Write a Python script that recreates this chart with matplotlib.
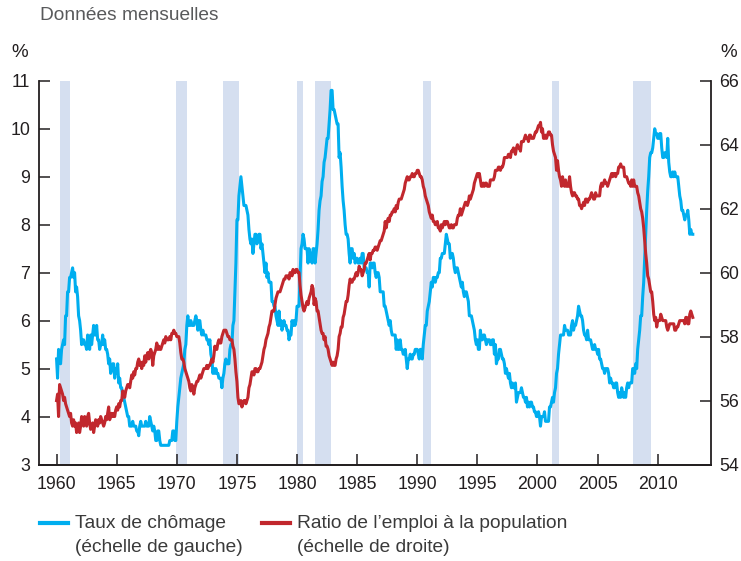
import numpy as np
import matplotlib
matplotlib.use("Agg")
import matplotlib.pyplot as plt
from matplotlib.lines import Line2D

plt.rcParams['font.family'] = ['Liberation Sans', 'DejaVu Sans']

start_year = 1960

# taux de chomage, mensuel, 1960-2012 (une ligne par annee)
chomage = [
    5.2, 4.8, 5.4, 5.2, 5.1, 5.4, 5.5, 5.6, 5.5, 6.1, 6.1, 6.6,
    6.6, 6.9, 6.9, 7.0, 7.1, 6.9, 7.0, 6.6, 6.7, 6.5, 6.1, 6.0,
    5.8, 5.5, 5.6, 5.6, 5.5, 5.5, 5.4, 5.7, 5.6, 5.4, 5.7, 5.5,
    5.7, 5.9, 5.7, 5.7, 5.9, 5.6, 5.6, 5.4, 5.5, 5.5, 5.7, 5.5,
    5.6, 5.4, 5.4, 5.3, 5.1, 5.2, 4.9, 5.0, 5.1, 5.1, 4.8, 5.0,
    4.9, 5.1, 4.7, 4.8, 4.6, 4.6, 4.4, 4.4, 4.3, 4.2, 4.1, 4.0,
    4.0, 3.8, 3.8, 3.8, 3.9, 3.8, 3.8, 3.8, 3.7, 3.7, 3.6, 3.8,
    3.9, 3.8, 3.8, 3.8, 3.8, 3.9, 3.8, 3.8, 3.8, 4.0, 3.9, 3.8,
    3.7, 3.8, 3.7, 3.5, 3.5, 3.7, 3.7, 3.5, 3.4, 3.4, 3.4, 3.4,
    3.4, 3.4, 3.4, 3.4, 3.4, 3.5, 3.5, 3.5, 3.7, 3.7, 3.5, 3.5,
    3.9, 4.2, 4.4, 4.6, 4.8, 4.9, 5.0, 5.1, 5.4, 5.5, 5.9, 6.1,
    5.9, 5.9, 6.0, 5.9, 5.9, 5.9, 6.0, 6.1, 6.0, 5.8, 6.0, 6.0,
    5.8, 5.7, 5.8, 5.7, 5.7, 5.7, 5.6, 5.6, 5.5, 5.6, 5.3, 5.2,
    4.9, 5.0, 4.9, 5.0, 4.9, 4.9, 4.8, 4.8, 4.8, 4.6, 4.8, 4.9,
    5.1, 5.2, 5.1, 5.1, 5.1, 5.4, 5.5, 5.5, 5.9, 6.0, 6.6, 7.2,
    8.1, 8.1, 8.6, 8.8, 9.0, 8.8, 8.6, 8.4, 8.4, 8.4, 8.3, 8.2,
    7.9, 7.7, 7.6, 7.7, 7.4, 7.6, 7.8, 7.8, 7.6, 7.7, 7.8, 7.8,
    7.5, 7.6, 7.4, 7.2, 7.0, 7.2, 6.9, 7.0, 6.8, 6.8, 6.8, 6.4,
    6.4, 6.3, 6.3, 6.1, 6.0, 5.9, 6.2, 5.9, 6.0, 5.8, 5.9, 6.0,
    5.9, 5.9, 5.8, 5.8, 5.6, 5.7, 5.7, 6.0, 5.9, 6.0, 5.9, 6.0,
    6.3, 6.3, 6.3, 6.9, 7.5, 7.6, 7.8, 7.7, 7.5, 7.5, 7.5, 7.2,
    7.5, 7.4, 7.4, 7.2, 7.5, 7.5, 7.2, 7.4, 7.6, 7.9, 8.3, 8.5,
    8.6, 8.9, 9.0, 9.3, 9.4, 9.6, 9.8, 9.8, 10.1, 10.4, 10.8, 10.8,
    10.4, 10.4, 10.3, 10.2, 10.1, 10.1, 9.4, 9.5, 9.2, 8.8, 8.5, 8.3,
    8.0, 7.8, 7.8, 7.7, 7.4, 7.2, 7.5, 7.5, 7.3, 7.4, 7.2, 7.3,
    7.3, 7.2, 7.2, 7.3, 7.2, 7.4, 7.4, 7.1, 7.1, 7.1, 7.0, 7.0,
    6.7, 7.2, 7.2, 7.1, 7.2, 7.2, 7.0, 6.9, 7.0, 7.0, 6.9, 6.6,
    6.6, 6.6, 6.6, 6.3, 6.3, 6.2, 6.1, 6.0, 5.9, 6.0, 5.8, 5.7,
    5.7, 5.7, 5.7, 5.4, 5.6, 5.4, 5.4, 5.6, 5.4, 5.4, 5.3, 5.3,
    5.4, 5.2, 5.0, 5.2, 5.2, 5.3, 5.2, 5.2, 5.3, 5.3, 5.4, 5.4,
    5.4, 5.3, 5.2, 5.4, 5.4, 5.2, 5.5, 5.7, 5.9, 5.9, 6.2, 6.3,
    6.4, 6.6, 6.8, 6.7, 6.9, 6.9, 6.8, 6.9, 6.9, 7.0, 7.0, 7.3,
    7.3, 7.4, 7.4, 7.4, 7.6, 7.8, 7.7, 7.6, 7.6, 7.3, 7.4, 7.4,
    7.3, 7.1, 7.0, 7.1, 7.1, 7.0, 6.9, 6.8, 6.7, 6.8, 6.6, 6.5,
    6.6, 6.6, 6.5, 6.4, 6.1, 6.1, 6.1, 6.0, 5.9, 5.8, 5.6, 5.5,
    5.6, 5.4, 5.4, 5.8, 5.6, 5.6, 5.7, 5.7, 5.6, 5.5, 5.6, 5.6,
    5.6, 5.5, 5.5, 5.6, 5.6, 5.3, 5.5, 5.1, 5.2, 5.2, 5.4, 5.4,
    5.3, 5.2, 5.2, 5.1, 4.9, 5.0, 4.9, 4.8, 4.9, 4.7, 4.6, 4.7,
    4.6, 4.6, 4.7, 4.3, 4.4, 4.5, 4.5, 4.5, 4.6, 4.5, 4.4, 4.4,
    4.3, 4.4, 4.2, 4.3, 4.2, 4.3, 4.3, 4.2, 4.2, 4.1, 4.1, 4.0,
    4.0, 4.1, 4.0, 3.8, 4.0, 4.0, 4.0, 4.1, 3.9, 3.9, 3.9, 3.9,
    4.2, 4.2, 4.3, 4.4, 4.3, 4.5, 4.6, 4.9, 5.0, 5.3, 5.5, 5.7,
    5.7, 5.7, 5.7, 5.9, 5.8, 5.8, 5.8, 5.7, 5.7, 5.7, 5.9, 6.0,
    5.8, 5.9, 5.9, 6.0, 6.1, 6.3, 6.2, 6.1, 6.1, 6.0, 5.8, 5.7,
    5.7, 5.6, 5.8, 5.6, 5.6, 5.6, 5.5, 5.4, 5.4, 5.5, 5.4, 5.4,
    5.3, 5.4, 5.2, 5.2, 5.1, 5.0, 5.0, 4.9, 5.0, 5.0, 5.0, 4.9,
    4.7, 4.8, 4.7, 4.7, 4.6, 4.6, 4.7, 4.7, 4.5, 4.4, 4.5, 4.4,
    4.6, 4.5, 4.4, 4.5, 4.4, 4.6, 4.7, 4.6, 4.7, 4.7, 4.7, 5.0,
    5.0, 4.9, 5.1, 5.0, 5.4, 5.6, 5.8, 6.1, 6.1, 6.5, 6.8, 7.3,
    7.8, 8.3, 8.7, 9.0, 9.4, 9.5, 9.5, 9.6, 9.8, 10.0, 9.9, 9.9,
    9.8, 9.8, 9.9, 9.9, 9.6, 9.4, 9.4, 9.5, 9.5, 9.4, 9.8, 9.3,
    9.1, 9.0, 9.0, 9.1, 9.0, 9.1, 9.0, 9.0, 9.0, 8.8, 8.6, 8.5,
    8.3, 8.3, 8.2, 8.1, 8.2, 8.2, 8.3, 8.1, 7.8, 7.9, 7.8, 7.8,
]

# ratio emploi / population, mensuel, 1960-2012
ratio_emploi = [
    56.0, 56.2, 55.5, 56.5, 56.4, 56.3, 56.2, 56.0, 56.1, 55.9, 55.8, 55.7,
    55.6, 55.5, 55.6, 55.3, 55.2, 55.4, 55.2, 55.3, 55.0, 55.1, 55.3, 55.0,
    55.2, 55.5, 55.4, 55.2, 55.5, 55.4, 55.2, 55.5, 55.6, 55.3, 55.1, 55.2,
    55.3, 55.0, 55.2, 55.4, 55.3, 55.2, 55.4, 55.3, 55.5, 55.4, 55.3, 55.2,
    55.3, 55.5, 55.4, 55.6, 55.8, 55.4, 55.5, 55.6, 55.5, 55.6, 55.5, 55.7,
    55.8, 55.7, 55.9, 55.8, 56.0, 56.0, 56.3, 56.2, 56.1, 56.3, 56.4, 56.5,
    56.5, 56.4, 56.6, 56.8, 56.7, 56.9, 56.8, 57.0, 57.0, 57.2, 57.3, 57.1,
    57.2, 57.0, 57.2, 57.1, 57.4, 57.2, 57.4, 57.5, 57.3, 57.5, 57.6, 57.5,
    57.1, 57.4, 57.5, 57.6, 57.8, 57.6, 57.7, 57.6, 57.6, 57.7, 57.8, 57.9,
    57.8, 58.0, 57.9, 57.9, 57.9, 58.0, 57.9, 58.1, 58.1, 58.2, 58.1, 58.1,
    58.0, 58.0, 58.0, 57.8, 57.5, 57.3, 57.3, 57.2, 57.0, 56.9, 56.8, 56.7,
    56.6, 56.4, 56.3, 56.5, 56.4, 56.2, 56.4, 56.5, 56.6, 56.6, 56.7, 56.8,
    56.7, 56.8, 56.9, 57.0, 57.0, 57.0, 57.1, 57.0, 57.1, 57.1, 57.2, 57.3,
    57.2, 57.4, 57.7, 57.6, 57.6, 57.8, 57.9, 57.8, 57.8, 58.0, 58.1, 58.2,
    58.2, 58.2, 58.1, 58.0, 58.0, 57.9, 57.9, 57.9, 57.7, 57.6, 57.3, 56.9,
    56.6, 56.1, 55.9, 55.9, 56.0, 55.8, 55.9, 56.0, 56.0, 55.9, 56.0, 56.1,
    56.4, 56.5, 56.7, 56.9, 56.9, 56.8, 57.0, 57.0, 56.9, 56.9, 57.0, 57.0,
    57.1, 57.2, 57.4, 57.6, 57.7, 57.9, 58.0, 58.1, 58.3, 58.4, 58.6, 58.8,
    58.8, 58.8, 59.0, 59.2, 59.3, 59.4, 59.4, 59.4, 59.5, 59.6, 59.7, 59.8,
    59.8, 59.9, 59.9, 59.9, 59.8, 60.0, 60.0, 59.9, 60.1, 60.0, 60.0, 60.1,
    60.1, 60.0, 60.0, 59.6, 59.3, 59.1, 58.9, 58.8, 58.9, 59.0, 59.1, 59.0,
    59.2, 59.3, 59.4, 59.6, 59.5, 59.0, 59.2, 59.1, 58.8, 58.8, 58.6, 58.4,
    58.2, 58.1, 58.1, 57.9, 58.0, 57.7, 57.7, 57.6, 57.4, 57.3, 57.2, 57.1,
    57.2, 57.1, 57.1, 57.3, 57.4, 57.6, 58.0, 58.1, 58.3, 58.3, 58.6, 58.7,
    58.9, 59.1, 59.1, 59.3, 59.6, 59.8, 59.7, 59.7, 59.8, 59.8, 59.9, 60.0,
    59.9, 60.0, 60.2, 60.1, 60.1, 59.9, 60.0, 60.1, 60.3, 60.3, 60.4, 60.5,
    60.6, 60.4, 60.6, 60.6, 60.7, 60.7, 60.8, 60.8, 60.7, 60.8, 60.9, 61.0,
    61.0, 61.1, 61.2, 61.3, 61.6, 61.4, 61.6, 61.7, 61.6, 61.8, 61.8, 61.9,
    61.9, 62.0, 61.9, 62.1, 62.0, 62.2, 62.3, 62.3, 62.3, 62.4, 62.5, 62.6,
    62.8, 62.9, 63.0, 62.9, 62.9, 63.0, 63.0, 63.1, 63.0, 63.0, 63.1, 63.1,
    63.2, 63.2, 63.1, 63.0, 63.0, 62.9, 62.7, 62.6, 62.4, 62.3, 62.2, 62.1,
    61.9, 61.8, 61.7, 61.8, 61.6, 61.6, 61.5, 61.5, 61.6, 61.4, 61.4, 61.3,
    61.5, 61.4, 61.5, 61.6, 61.5, 61.6, 61.6, 61.5, 61.4, 61.4, 61.5, 61.4,
    61.4, 61.5, 61.5, 61.5, 61.7, 61.8, 61.8, 62.0, 61.8, 61.9, 62.0, 62.1,
    62.2, 62.2, 62.1, 62.2, 62.4, 62.3, 62.4, 62.5, 62.6, 62.8, 62.9, 63.0,
    63.1, 63.0, 63.1, 62.9, 62.7, 62.7, 62.8, 62.7, 62.8, 62.8, 62.7, 62.7,
    62.7, 62.9, 62.9, 62.9, 62.9, 63.0, 63.2, 63.2, 63.2, 63.3, 63.3, 63.2,
    63.3, 63.3, 63.4, 63.6, 63.6, 63.6, 63.6, 63.7, 63.7, 63.6, 63.8, 63.8,
    63.9, 63.8, 63.7, 63.9, 64.0, 63.9, 63.9, 63.8, 64.1, 64.1, 64.1, 64.2,
    64.3, 64.2, 64.2, 64.1, 64.3, 64.3, 64.2, 64.2, 64.2, 64.3, 64.4, 64.4,
    64.5, 64.6, 64.6, 64.7, 64.4, 64.5, 64.2, 64.2, 64.3, 64.2, 64.3, 64.4,
    64.4, 64.3, 64.3, 64.0, 63.8, 63.7, 63.6, 63.2, 63.5, 63.2, 63.0, 62.9,
    62.7, 63.0, 62.8, 62.7, 62.9, 62.7, 62.7, 62.7, 63.0, 62.7, 62.5, 62.4,
    62.5, 62.5, 62.4, 62.4, 62.3, 62.3, 62.1, 62.1, 62.0, 62.1, 62.2, 62.1,
    62.3, 62.3, 62.2, 62.3, 62.3, 62.4, 62.5, 62.4, 62.3, 62.3, 62.5, 62.4,
    62.4, 62.4, 62.4, 62.7, 62.8, 62.7, 62.8, 62.9, 62.8, 62.8, 62.7, 62.8,
    62.9, 63.0, 63.1, 63.0, 63.1, 63.1, 63.0, 63.1, 63.1, 63.3, 63.3, 63.4,
    63.3, 63.3, 63.3, 63.0, 63.0, 63.0, 62.9, 62.8, 62.8, 62.7, 62.9, 62.7,
    62.9, 62.7, 62.7, 62.7, 62.5, 62.4, 62.2, 62.0, 61.9, 61.7, 61.4, 61.0,
    60.6, 60.3, 59.9, 59.8, 59.6, 59.4, 59.4, 59.1, 58.7, 58.5, 58.6, 58.3,
    58.5, 58.5, 58.5, 58.7, 58.6, 58.5, 58.5, 58.5, 58.5, 58.3, 58.2, 58.3,
    58.4, 58.4, 58.4, 58.4, 58.4, 58.2, 58.2, 58.3, 58.3, 58.4, 58.5, 58.5,
    58.5, 58.5, 58.5, 58.4, 58.6, 58.6, 58.4, 58.4, 58.7, 58.8, 58.7, 58.6,
]

# periodes de recession (debut, fin) en annees decimales
recessions = [(1960.25, 1961.08), (1969.92, 1970.83), (1973.83, 1975.17),
              (1980.0, 1980.5), (1981.5, 1982.83), (1990.5, 1991.17),
              (2001.17, 2001.83), (2007.92, 2009.42)]

x_ticks = list(range(1960, 2011, 5))

blue = '#00aeef'
red = '#c1272d'
shade = '#d5dff0'
dark = '#231f20'
txt = '#3a3a3a'

months = np.arange(len(chomage))
dates = start_year + months / 12.0

fig = plt.figure(figsize=(7.41, 5.61), dpi=100)
ax = fig.add_axes([0.052, 0.172, 0.907, 0.684])
ax2 = ax.twinx()

for r0, r1 in recessions:
    ax.axvspan(r0, r1, color=shade, lw=0, zorder=0)

ax.plot(dates, chomage, color=blue, lw=2.2, zorder=3)
ax2.plot(dates, ratio_emploi, color=red, lw=2.2, zorder=3)

ax.set_xlim(1958.5, 2014.4)
ax.set_ylim(3, 11)
ax2.set_ylim(54, 66)
ax.set_xticks(x_ticks)
ax.set_yticks(range(3, 12))
ax2.set_yticks(range(54, 67, 2))

for a in (ax, ax2):
    a.spines['top'].set_visible(False)
    for s in a.spines.values():
        s.set_color(dark)
        s.set_linewidth(1.3)
    a.tick_params(direction='in', length=8, width=1.1, color=dark,
                  labelsize=12.8, labelcolor=dark)
ax.spines['right'].set_visible(False)
ax2.spines['left'].set_visible(False)
ax.tick_params(axis='x', pad=8)
ax.tick_params(axis='y', pad=6)
ax2.tick_params(axis='y', pad=6)

fig.text(0.054, 0.972, 'Données mensuelles', fontsize=13.8, color='#58595b',
         ha='left', va='center')
fig.text(0.027, 0.906, '%', fontsize=13.5, color=dark, ha='center', va='center')
fig.text(0.983, 0.906, '%', fontsize=13.5, color=dark, ha='center', va='center')

# legende
leg_y = 1 - 523 / 561
leg_y2 = 1 - 548 / 561
fig.add_artist(Line2D([40 / 741, 68 / 741], [leg_y, leg_y], color=blue, lw=3))
fig.text(75 / 741, leg_y, 'Taux de chômage', fontsize=13.8, color=txt,
         ha='left', va='center')
fig.text(75 / 741, leg_y2, '(échelle de gauche)', fontsize=13.8,
         color=txt, ha='left', va='center')
fig.add_artist(Line2D([262 / 741, 290 / 741], [leg_y, leg_y], color=red, lw=3))
fig.text(297 / 741, leg_y, 'Ratio de l\u2019emploi à la population', fontsize=13.8,
         color=txt, ha='left', va='center')
fig.text(297 / 741, leg_y2, '(échelle de droite)', fontsize=13.8,
         color=txt, ha='left', va='center')

fig.savefig('out.png', dpi=100)
